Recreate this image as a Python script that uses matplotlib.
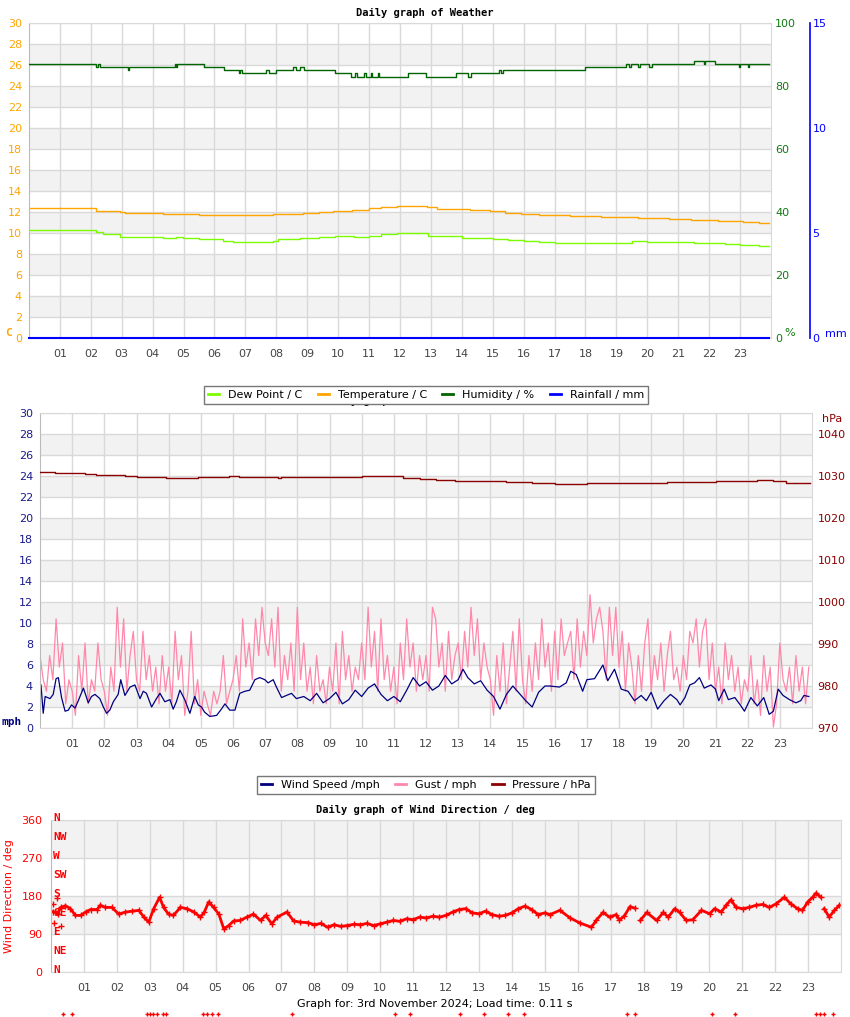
import numpy as np
import matplotlib.pyplot as plt
from matplotlib.lines import Line2D

# ---- weather (top) ----
temp_h = [0, 2.18, 2.94, 3.1, 4.33, 5.51, 7.88, 8.85, 9.39, 9.82, 10.46, 11.0, 11.37, 11.9, 12.86,
          13.2, 14.25, 14.9, 15.4, 15.9, 16.5, 17.5, 18.5, 19.7, 20.7, 21.4, 22.3, 23.1, 23.6, 23.95]
temp_v = [12.35, 12.13, 11.97, 11.87, 11.78, 11.68, 11.78, 11.87, 12.0, 12.13, 12.22, 12.35, 12.48, 12.6, 12.5,
          12.3, 12.2, 12.1, 11.95, 11.8, 11.7, 11.6, 11.5, 11.4, 11.3, 11.2, 11.1, 11.0, 10.95, 10.95]

dew_h = [0, 2.18, 2.4, 2.94, 4.33, 4.76, 4.97, 5.51, 6.27, 6.6, 7.88, 8.05, 8.75, 9.39, 9.9, 10.5, 11.0,
         11.4, 11.9, 12.9, 13.5, 14.0, 15.0, 15.5, 16.0, 16.5, 17.0, 19.5, 20.0, 21.5, 22.5, 23.0, 23.6, 23.95]
dew_v = [10.25, 10.1, 9.9, 9.65, 9.49, 9.65, 9.49, 9.4, 9.27, 9.11, 9.27, 9.4, 9.49, 9.65, 9.75, 9.58, 9.75,
         9.87, 9.97, 9.75, 9.7, 9.5, 9.45, 9.3, 9.2, 9.15, 9.05, 9.25, 9.15, 9.05, 8.95, 8.85, 8.75, 8.75]

hum_h = [0, 2.18, 2.24, 2.30, 3.20, 3.23, 4.72, 4.76, 4.80, 5.65, 6.30, 6.78, 6.84, 6.88, 7.68, 7.75,
         7.98, 8.55, 8.65, 8.75, 8.90, 9.89, 10.43, 10.55, 10.60, 10.85, 10.90, 11.05, 11.10, 11.30,
         11.33, 12.25, 12.83, 13.80, 14.20, 14.30, 15.20, 15.28, 15.33, 17.99, 19.30, 19.42, 19.46,
         19.70, 19.76, 20.05, 20.14, 21.50, 21.82, 21.88, 22.20, 22.95, 23.00, 23.25, 23.30, 23.95]
hum_v = [87, 86, 87, 86, 85, 86, 87, 86, 87, 86, 85, 84, 85, 84, 85, 84,
         85, 86, 85, 86, 85, 84, 83, 84, 83, 84, 83, 84, 83, 84,
         83, 84, 83, 84, 83, 84, 85, 84, 85, 86, 87, 86, 87,
         86, 87, 86, 87, 88, 87, 88, 87, 86, 87, 86, 87, 87]

rain_h = [0, 23.95]
rain_v = [0, 0]

# ---- wind / pressure (middle) ----
wind_h = [0.03, 0.10, 0.16, 0.31, 0.41, 0.50, 0.57, 0.67, 0.78, 0.88, 0.98, 1.09, 1.19, 1.35, 1.50,
          1.60, 1.71, 1.86, 1.97, 2.07, 2.17, 2.28, 2.43, 2.51, 2.64, 2.80, 2.95, 3.11, 3.21, 3.31,
          3.47, 3.62, 3.73, 3.88, 4.04, 4.14, 4.24, 4.35, 4.50, 4.66, 4.81, 4.92, 5.02, 5.12, 5.28,
          5.49, 5.64, 5.75, 5.90, 6.06, 6.21, 6.37, 6.52, 6.68, 6.83, 6.99, 7.09, 7.25, 7.35, 7.51,
          7.66, 7.82, 7.97, 8.2, 8.4, 8.6, 8.8, 9.0, 9.2, 9.4, 9.6, 9.8, 10.0, 10.2, 10.4, 10.6,
          10.8, 11.0, 11.2, 11.4, 11.6, 11.8, 12.0, 12.2, 12.4, 12.6, 12.8, 13.0, 13.15, 13.3, 13.5,
          13.7, 13.9, 14.1, 14.3, 14.5, 14.7, 14.9, 15.1, 15.3, 15.5, 15.7, 15.84, 16.15, 16.36,
          16.5, 16.67, 16.87, 17.0, 17.24, 17.5, 17.65, 17.86, 18.07, 18.28, 18.48, 18.69, 18.85,
          19.0, 19.2, 19.4, 19.6, 19.8, 19.9, 20.05, 20.2, 20.35, 20.5, 20.65, 20.86, 21.0, 21.1,
          21.27, 21.4, 21.6, 21.77, 21.9, 22.1, 22.3, 22.5, 22.67, 22.8, 22.95, 23.1, 23.3, 23.5,
          23.65, 23.75, 23.9]
wind_v = [4.1, 1.4, 3.0, 2.8, 3.2, 4.7, 4.8, 2.9, 1.6, 1.7, 2.2, 1.9, 2.6, 3.8, 2.4,
          3.0, 3.2, 2.8, 2.0, 1.4, 1.7, 2.5, 3.2, 4.6, 3.1, 3.9, 4.1, 2.8, 3.5, 3.3,
          2.0, 2.8, 3.3, 2.5, 2.7, 1.8, 2.5, 3.6, 2.7, 1.4, 3.0, 2.2, 2.0, 1.5, 1.1,
          1.2, 1.8, 2.3, 1.7, 1.7, 3.3, 3.5, 3.6, 4.6, 4.8, 4.6, 4.3, 4.6, 3.9, 2.9,
          3.1, 3.3, 2.8, 3.0, 2.6, 3.3, 2.4, 2.8, 3.4, 2.3, 2.7, 3.6, 3.0, 3.8, 4.2, 3.2,
          2.6, 3.0, 2.5, 3.6, 4.8, 4.0, 4.4, 3.6, 4.0, 5.0, 4.2, 4.6, 5.6, 4.8, 4.2,
          4.5, 3.6, 3.0, 1.8, 3.2, 4.0, 3.3, 2.6, 2.0, 3.4, 4.0, 4.0, 3.9, 4.3,
          5.4, 5.1, 3.5, 4.6, 4.7, 6.0, 4.5, 5.6, 3.7, 3.5, 2.6, 3.1, 2.6,
          3.4, 1.8, 2.6, 3.2, 2.7, 2.2, 2.9, 4.1, 4.3, 4.8, 3.8, 4.1, 3.7, 2.6,
          3.7, 2.7, 2.9, 2.2, 1.6, 2.9, 2.1, 2.9, 1.3, 1.6, 3.7, 3.1, 2.7, 2.4,
          2.6, 3.1, 3.0]

# gust, one value every 6 minutes (one row per hour)
gust_v = [
    6.9, 4.6, 3.5, 6.9, 4.6, 10.4, 5.8, 8.1, 2.3, 4.6,
    3.5, 1.2, 6.9, 3.5, 8.1, 2.3, 4.6, 3.5, 8.1, 4.6,
    3.5, 1.2, 5.8, 3.5, 11.5, 5.8, 10.4, 3.5, 6.9, 9.2,
    4.6, 3.5, 9.2, 4.6, 6.9, 3.5, 5.8, 2.3, 6.9, 3.5,
    5.8, 2.3, 9.2, 4.6, 6.9, 1.2, 3.5, 9.2, 2.3, 4.6,
    1.2, 3.5, 2.3, 1.2, 3.5, 2.3, 3.5, 6.9, 2.3, 3.5,
    4.6, 6.9, 3.5, 10.4, 5.8, 8.1, 4.6, 10.4, 6.9, 11.5,
    8.1, 6.9, 10.4, 5.8, 11.5, 3.5, 6.9, 4.6, 8.1, 3.5,
    11.5, 4.6, 8.1, 3.5, 5.8, 2.3, 6.9, 3.5, 4.6, 2.3,
    5.8, 3.5, 8.1, 2.3, 9.2, 4.6, 6.9, 3.5, 5.8, 4.6,
    8.1, 4.6, 11.5, 5.8, 9.2, 3.5, 10.4, 4.6, 6.9, 3.5,
    5.8, 2.3, 8.1, 4.6, 10.4, 5.8, 8.1, 3.5, 6.9, 4.6,
    6.9, 3.5, 11.5, 10.4, 5.8, 8.1, 3.5, 9.2, 4.6, 6.9,
    8.1, 4.6, 9.2, 5.8, 11.5, 6.9, 10.4, 4.6, 8.1, 5.8,
    4.6, 1.2, 6.9, 3.5, 8.1, 2.3, 5.8, 9.2, 3.5, 10.4,
    4.6, 2.3, 6.9, 3.5, 8.1, 4.6, 10.4, 5.8, 8.1, 3.5,
    9.2, 4.6, 10.4, 6.9, 8.1, 9.2, 4.6, 10.4, 5.8, 9.2,
    6.9, 12.7, 8.1, 10.4, 11.5, 9.2, 4.6, 11.5, 6.9, 11.5,
    5.8, 9.2, 3.5, 8.1, 5.8, 2.3, 6.9, 3.5, 8.1, 10.4,
    3.5, 6.9, 4.6, 8.1, 3.5, 6.9, 9.2, 4.6, 5.8, 3.5,
    6.9, 4.6, 9.2, 8.1, 10.4, 5.8, 9.2, 10.4, 4.6, 8.1,
    3.5, 5.8, 2.3, 8.1, 4.6, 6.9, 3.5, 5.8, 2.3, 4.6,
    3.5, 6.9, 2.3, 4.6, 1.2, 6.9, 3.5, 5.8, 0.1, 2.3,
    8.1, 4.6, 3.5, 5.8, 2.3, 6.9, 3.5, 5.8, 2.3, 5.8,
]
gust_h = np.arange(len(gust_v)) * 0.1

pres_h = [0, 0.47, 1.4, 1.73, 2.64, 3.0, 3.93, 4.92, 5.88, 6.2, 7.4, 7.5, 8.0, 10.0, 11.3, 11.8, 12.3,
          12.9, 13.6, 14.5, 15.3, 16.0, 17.0, 18.6, 19.5, 20.3, 21.0, 22.3, 22.8, 23.2, 23.6, 23.95]
pres_v = [1031.1, 1030.9, 1030.6, 1030.4, 1030.15, 1029.8, 1029.6, 1029.8, 1030.15, 1029.8, 1029.7,
          1029.8, 1029.9, 1030.0, 1029.7, 1029.4, 1029.2, 1029.0, 1028.8, 1028.6, 1028.4, 1028.2,
          1028.3, 1028.5, 1028.6, 1028.7, 1028.9, 1029.1, 1028.8, 1028.5, 1028.4, 1028.4]

# ---- wind direction (bottom) ----
dir_h = [0.07, 0.20, 0.29, 0.44, 0.59, 0.74, 0.90, 1.05, 1.20, 1.40, 1.50, 1.65, 1.85, 2.06, 2.26,
         2.46, 2.67, 2.82, 2.97, 3.12, 3.30, 3.42, 3.57, 3.72, 3.93, 4.13, 4.34, 4.54, 4.66, 4.79,
         4.94, 5.10, 5.25, 5.40, 5.55, 5.75, 5.95, 6.15, 6.37, 6.52, 6.71, 6.87, 7.17, 7.37, 7.57,
         7.8, 8.0, 8.2, 8.4, 8.6, 8.8, 9.0, 9.2, 9.4, 9.6, 9.8, 10.0, 10.2, 10.4, 10.6, 10.8, 11.0,
         11.2, 11.4, 11.6, 11.8, 12.0, 12.2, 12.4, 12.6, 12.8, 13.0, 13.2, 13.4, 13.6, 13.8, 14.0,
         14.2, 14.4, 14.6, 14.8, 15.0, 15.16, 15.46, 15.77, 16.07, 16.42, 16.57, 16.77, 16.97, 17.17,
         17.27, 17.42, 17.59, 17.74, 17.80, 17.9, 18.1, 18.4, 18.6, 18.75, 18.95, 19.1, 19.3, 19.5,
         19.76, 20.01, 20.16, 20.36, 20.51, 20.66, 20.81, 21.01, 21.21, 21.42, 21.62, 21.82, 22.02,
         22.28, 22.48, 22.68, 22.83, 22.99, 23.14, 23.24, 23.39, 23.44, 23.49, 23.64, 23.8, 23.95]
dir_v = [143, 138, 153, 157, 150, 134, 134, 142, 148, 148, 158, 153, 153, 137, 142,
         144, 146, 130, 118, 150, 177, 153, 137, 134, 153, 150, 142, 130, 142, 166,
         153, 137, 102, 110, 121, 122, 130, 137, 122, 134, 114, 130, 142, 121, 118,
         117, 112, 115, 106, 112, 108, 110, 113, 112, 115, 110, 114, 118, 122, 120, 126, 124,
         130, 128, 132, 130, 134, 142, 148, 150, 140, 138, 144, 136, 132, 134, 140,
         150, 156, 148, 136, 140, 136, 146, 128, 116, 106, 123, 141, 130, 136,
         123, 133, 155, 151, np.nan, 122, 141, 122, 141, 130, 150, 141, 122, 124,
         146, 138, 150, 142, 158, 171, 153, 150, 153, 158, 160, 153, 161,
         177, 161, 150, 146, 166, 177, 187, 177, np.nan, 150, 130, 146, 158]
odd_h = [0.05, 0.08, 0.19, 0.29]
odd_v = [160, 117, 176, 108]
calm_h = [0.36, 0.63, 2.91, 3.0, 3.1, 3.22, 3.40, 3.49, 4.62, 4.74, 4.89, 5.07, 7.32, 10.45, 10.9,
          12.42, 13.15, 13.88, 14.37, 17.5, 17.74, 20.08, 20.78, 23.24, 23.36, 23.48, 23.75]
calm_v = [-100] * len(calm_h)

compass = ['N', 'NE', 'E', 'SE', 'S', 'SW', 'W', 'NW', 'N']
hour_ticks = list(range(1, 24))
hour_labels = ['%02d' % h for h in hour_ticks]

W, H = 850, 1017
fig = plt.figure(figsize=(W / 100, H / 100), dpi=100)
mono = 'DejaVu Sans Mono'
GRID = '#d9d9d9'


def box(l, t, r, b):
    return [l / W, 1 - b / H, (r - l) / W, (b - t) / H]


def base(ax, ymax, step, band_step, col):
    ax.set_xlim(0, 24)
    ax.set_ylim(0, ymax)
    ax.set_xticks(hour_ticks)
    ax.set_xticklabels(hour_labels)
    ax.set_yticks(np.arange(0, ymax + 0.1, step))
    for lo in np.arange(band_step, ymax, 2 * band_step):
        ax.axhspan(lo, lo + band_step, color='#f2f2f2', zorder=0, lw=0)
    ax.grid(True, color=GRID, lw=1)
    ax.set_axisbelow(True)
    ax.tick_params(axis='x', length=0, pad=8, labelsize=8, labelcolor='#444444')
    ax.tick_params(axis='y', length=0, pad=5, labelsize=8, labelcolor=col)
    for s in ax.spines.values():
        s.set_color(GRID)
    ax.spines['left'].set_color('#bbbbbb')


# top chart
ax1 = fig.add_axes(box(29, 23, 771, 338))
base(ax1, 30, 2, 2, '#FFA500')
ax1.step(temp_h, temp_v, where='post', color='#FFA500', lw=1)
ax1.step(dew_h, dew_v, where='post', color='#7CFC00', lw=1)
ax1h = ax1.twinx()
ax1h.set_ylim(0, 100)
ax1h.set_yticks(range(0, 101, 20))
ax1h.tick_params(length=0, pad=3, labelsize=8, labelcolor='#107a10')
ax1h.step(hum_h, hum_v, where='post', color='#006400', lw=1)
ax1r = ax1.twinx()
ax1r.set_ylim(0, 15)
ax1r.set_yticks([0, 5, 10, 15])
ax1r.tick_params(length=0, pad=2, labelsize=8, labelcolor='#0000FF')
ax1r.spines['right'].set_position(('outward', 28))
ax1r.plot(rain_h, rain_v, color='#0000FF', lw=1.5, clip_on=False)
for a in (ax1h, ax1r):
    for s in a.spines.values():
        s.set_visible(False)
ax1r.spines['right'].set_visible(True)
ax1r.spines['right'].set_color('#0000FF')
ax1r.spines['right'].set_linewidth(1.2)

fig.text(425 / W, 1 - 13 / H, 'Daily graph of Weather', family=mono, weight='bold',
         fontsize=7.5, ha='center', va='center')
fig.text(5 / W, 1 - 333 / H, 'C', family=mono, weight='bold', fontsize=8, color='#FFA500', va='center')
fig.text(784 / W, 1 - 333 / H, '%', fontsize=8, color='#107a10', va='center')
fig.text(825 / W, 1 - 334 / H, 'mm', fontsize=8, color='#0000FF', va='center')

h1 = [Line2D([], [], color=c, lw=2) for c in ('#7CFC00', '#FFA500', '#006400', '#0000FF')]
leg1 = fig.legend(h1, ['Dew Point / C', 'Temperature / C', 'Humidity / %', 'Rainfall / mm'],
                  loc='center', bbox_to_anchor=(426 / W, 1 - 395 / H), ncol=4, fontsize=8,
                  handlelength=1.0, handletextpad=0.8, columnspacing=1.4, fancybox=False,
                  edgecolor='#777777', framealpha=1, borderpad=0.35)
leg1.get_frame().set_linewidth(1)

# middle chart
ax2 = fig.add_axes(box(40, 413, 812, 728))
base(ax2, 30, 2, 2, '#1a1a8c')
ax2.plot(gust_h, gust_v, color='#ff88aa', lw=0.9)
ax2.plot(wind_h, wind_v, color='#000080', lw=0.9)
ax2p = ax2.twinx()
ax2p.set_ylim(970, 1045.1)
ax2p.set_yticks(range(970, 1041, 10))
ax2p.tick_params(length=0, pad=4, labelsize=8, labelcolor='#8B0000')
for s in ax2p.spines.values():
    s.set_visible(False)
ax2p.step(pres_h, pres_v, where='post', color='#8B0000', lw=1)
fig.text(426 / W, 1 - 401 / H, 'Daily graph of Wind and Pressure', family=mono, weight='bold',
         fontsize=7.5, ha='center', va='center')
fig.text(2 / W, 1 - 722 / H, 'mph', family=mono, weight='bold', fontsize=8, color='#000080', va='center')
fig.text(822 / W, 1 - 419 / H, 'hPa', fontsize=8, color='#8B0000', va='center')

h2 = [Line2D([], [], color=c, lw=2) for c in ('#000080', '#ff88aa', '#8B0000')]
leg2 = fig.legend(h2, ['Wind Speed /mph', 'Gust / mph', 'Pressure / hPa'],
                  loc='center', bbox_to_anchor=(426 / W, 1 - 785 / H), ncol=3, fontsize=8,
                  handlelength=1.0, handletextpad=0.8, columnspacing=1.4, fancybox=False,
                  edgecolor='#777777', framealpha=1, borderpad=0.35)
leg2.get_frame().set_linewidth(1)

# bottom chart
ax3 = fig.add_axes(box(51, 820, 841, 972))
base(ax3, 360, 90, 90, '#FF0000')
ax3.tick_params(axis='y', pad=6)
ax3.plot(dir_h, dir_v, color='#FF0000', lw=2, marker='+', ms=4, mew=1)
ax3.plot(odd_h, odd_v, ls='none', color='#FF0000', marker='+', ms=4, mew=1)
ax3.plot(calm_h, calm_v, ls='none', color='#FF0000', marker='+', ms=3, mew=1, clip_on=False)
for i, name in enumerate(compass):
    ax3.text(0.003, i * 45 + 5, name, transform=ax3.get_yaxis_transform(), family=mono,
             weight='bold', fontsize=8, color='#FF0000', va='center', ha='left')
fig.text(425 / W, 1 - 810 / H, 'Daily graph of Wind Direction / deg', family=mono, weight='bold',
         fontsize=7.5, ha='center', va='center')
fig.text(9 / W, 1 - 896 / H, 'Wind Direction / deg', rotation=90, fontsize=8, color='#FF0000',
         ha='center', va='center')
fig.text(435 / W, 1 - 1004 / H, 'Graph for: 3rd November 2024; Load time: 0.11 s', fontsize=8,
         ha='center', va='center')

fig.savefig('out.png', dpi=100)
